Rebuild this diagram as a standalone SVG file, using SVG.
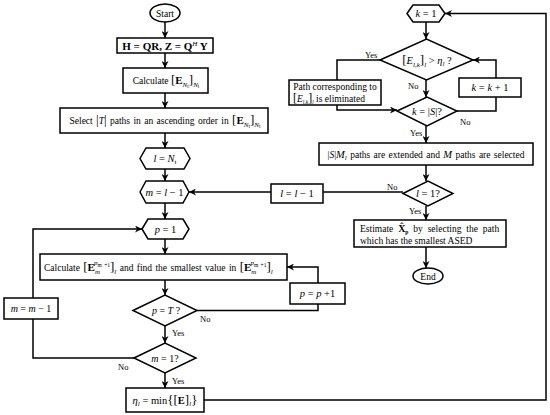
<svg xmlns="http://www.w3.org/2000/svg" width="550" height="415" viewBox="0 0 550 415" font-family="'Liberation Serif', 'Times New Roman', serif">
<defs>
<marker id="ah" viewBox="0 0 10 10" refX="10" refY="5" markerWidth="7" markerHeight="7" orient="auto" markerUnits="userSpaceOnUse">
<path d="M0,0 L10,5 L0,10 L3,5 z" fill="#000"/>
</marker>
<style>
.s{fill:#fff;stroke:#000;stroke-width:1.5}
.c{fill:none;stroke:#000;stroke-width:1.5}
.a{marker-end:url(#ah)}
text{font-family:'Liberation Serif','Times New Roman',serif;font-size:9.5px;fill:#000}
.mid{text-anchor:middle}
.i{font-style:italic}
.b{font-weight:bold}
.sm{font-size:7px}
.xs{font-size:5.5px}
.br{font-size:13px}
.lb{font-size:8.5px}
.e{font-size:11px;font-weight:bold}
</style>
</defs>
<rect width="550" height="415" fill="#fff"/>
<g id="connectors">
<line class="c a" x1="165" y1="22" x2="165" y2="38"/>
<line class="c a" x1="165" y1="53" x2="165" y2="68"/>
<line class="c a" x1="165" y1="93" x2="165" y2="108"/>
<line class="c a" x1="165" y1="133" x2="165" y2="148"/>
<line class="c a" x1="165" y1="169" x2="165" y2="181"/>
<line class="c a" x1="165" y1="203" x2="165" y2="219"/>
<line class="c a" x1="165" y1="239" x2="165" y2="254"/>
<line class="c a" x1="165" y1="280" x2="165" y2="295"/>
<line class="c a" x1="165" y1="326" x2="165" y2="343"/>
<line class="c a" x1="165" y1="373" x2="165" y2="388"/>
<polyline class="c a" points="197,310.5 318,310.5 318,267 287,267"/>
<polyline class="c a" points="134,358 33,358 33,229 142,229"/>
<polyline class="c a" points="204,400 546,400 546,13.5 445,13.5"/>
<line class="c a" x1="426" y1="22" x2="426" y2="39"/>
<polyline class="c a" points="380,60 337,60 337,110 397,110"/>
<line class="c a" x1="426" y1="80" x2="426" y2="97"/>
<polyline class="c a" points="457,111 496,111 496,60 473,60"/>
<line class="c a" x1="426" y1="126" x2="426" y2="143"/>
<line class="c a" x1="426" y1="165" x2="426" y2="181"/>
<polyline class="c a" points="403,192 189,192"/>
<line class="c a" x1="426" y1="206" x2="426" y2="220"/>
<line class="c a" x1="426" y1="247" x2="426" y2="268"/>
<text class="lb" x="200" y="322">No</text>
<text class="lb" x="172" y="336">Yes</text>
<text class="lb" x="118" y="370">No</text>
<text class="lb" x="172" y="384">Yes</text>
<text class="lb" x="365" y="58">Yes</text>
<text class="lb" x="408" y="89">No</text>
<text class="lb" x="460" y="125">No</text>
<text class="lb" x="410" y="136">Yes</text>
<text class="lb" x="387" y="190">No</text>
<text class="lb" x="409" y="214">Yes</text>
</g>
<g id="start">
<ellipse class="s" cx="165" cy="13" rx="15" ry="9"/>
<text class="mid" x="165" y="16.5">Start</text>
</g>
<g id="qr">
<rect class="s" x="117" y="38" width="96" height="15"/>
<text class="mid b" x="165" y="49.5" style="font-size:11px">H = QR,  Z = Q<tspan class="i sm" style="font-weight:normal" dy="-4">H</tspan><tspan dy="4"> Y</tspan></text>
</g>
<g id="calc1">
<rect class="s" x="123" y="68" width="85" height="25"/>
<text class="mid" x="166" y="84">Calculate  <tspan class="br">[</tspan><tspan class="e">E</tspan><tspan class="i sm" dy="3">N</tspan><tspan class="xs" dy="1">t</tspan><tspan class="br" dy="-4">]</tspan><tspan class="i sm" dy="3">N</tspan><tspan class="xs" dy="1">t</tspan></text>
</g>
<g id="select">
<rect class="s" x="60" y="108" width="208" height="25"/>
<text class="mid" x="165" y="124" style="word-spacing:1px">Select <tspan class="br">|</tspan><tspan class="i">T</tspan><tspan class="br">|</tspan> paths in an ascending order in <tspan class="br">[</tspan><tspan class="e">E</tspan><tspan class="i sm" dy="3">N</tspan><tspan class="xs" dy="1">t</tspan><tspan class="br" dy="-4">]</tspan><tspan class="i sm" dy="3">N</tspan><tspan class="xs" dy="1">t</tspan></text>
</g>
<g id="lnt">
<polygon class="s" points="140,158.5 146,148 184,148 190,158.5 184,169 146,169"/>
<text class="mid" x="165" y="162" style="font-size:10.5px"><tspan class="i">l</tspan> = <tspan class="i">N</tspan><tspan class="sm" dy="2">t</tspan></text>
</g>
<g id="ml1">
<polygon class="s" points="140,192 146,181 183,181 189,192 183,203 146,203"/>
<text class="mid" x="164.5" y="195.5" style="font-size:10.5px"><tspan class="i">m</tspan> = <tspan class="i">l</tspan> − 1</text>
</g>
<g id="p1">
<polygon class="s" points="142,229 148,219 183,219 189,229 183,239 148,239"/>
<text class="mid" x="165.5" y="232.5" style="font-size:10.5px"><tspan class="i">p</tspan> = 1</text>
</g>
<g id="calc2">
<rect class="s" x="40" y="254" width="247" height="26"/>
<text x="44" y="271" style="word-spacing:1px">Calculate <tspan class="br">[</tspan><tspan class="e">E</tspan><tspan class="i sm" dy="3">m</tspan><tspan class="i sm" dx="-6" dy="-9">p</tspan><tspan class="xs" dy="2">m +1</tspan><tspan class="br" dy="4">]</tspan><tspan class="i sm" dy="3">l</tspan><tspan dy="-3"> and find the smallest value in </tspan><tspan class="br">[</tspan><tspan class="e">E</tspan><tspan class="i sm" dy="3">m</tspan><tspan class="i sm" dx="-6" dy="-9">p</tspan><tspan class="xs" dy="2">m +1</tspan><tspan class="br" dy="4">]</tspan><tspan class="i sm" dy="3">l</tspan></text>
</g>
<g id="pT">
<polygon class="s" points="133,310.5 165,295 197,310.5 165,326"/>
<text class="mid" x="166" y="314" style="font-size:10px"><tspan class="i">p</tspan> = <tspan class="i">T</tspan> ?</text>
</g>
<g id="m1">
<polygon class="s" points="134,358 165,343 196,358 165,373"/>
<text class="mid" x="165" y="361.5" style="font-size:10px"><tspan class="i">m</tspan> = 1?</text>
</g>
<g id="mm1">
<rect class="s" x="4" y="298" width="54" height="21"/>
<text class="mid" x="31" y="312" style="font-size:10px"><tspan class="i">m</tspan> = <tspan class="i">m</tspan> − 1</text>
</g>
<g id="eta">
<rect class="s" x="126" y="388" width="78" height="24"/>
<text class="mid" x="165" y="403.5" style="font-size:10.5px"><tspan class="i">η</tspan><tspan class="i sm" dy="2">l</tspan><tspan dy="-2"> = min</tspan><tspan class="br">{[</tspan><tspan class="b">E</tspan><tspan class="br">]</tspan><tspan class="i sm" dy="2">l</tspan><tspan class="br" dy="-2">}</tspan></text>
</g>
<g id="pp1">
<rect class="s" x="290" y="283" width="55" height="21"/>
<text class="mid" x="317.5" y="297" style="font-size:10.5px"><tspan class="i">p</tspan> = <tspan class="i">p</tspan> +1</text>
</g>
<g id="k1">
<polygon class="s" points="407,13.5 413,5 439,5 445,13.5 439,22 413,22"/>
<text class="mid" x="426" y="17" style="font-size:10.5px"><tspan class="i">k</tspan> = 1</text>
</g>
<g id="cmp">
<polygon class="s" points="380,60 426.5,39 473,60 426.5,80"/>
<text class="mid" x="427" y="63.5" style="font-size:10.5px"><tspan class="br">[</tspan><tspan class="i">E</tspan><tspan class="i sm" dy="3">l,k</tspan><tspan class="br" dy="-3">]</tspan><tspan class="i sm" dy="3">l</tspan><tspan dy="-3"> &gt; </tspan><tspan class="i">η</tspan><tspan class="i sm" dy="2">l</tspan><tspan dy="-2"> ?</tspan></text>
</g>
<g id="elim">
<rect class="s" x="289" y="80" width="92" height="25"/>
<text class="mid" x="335" y="89.5">Path corresponding  to</text>
<text x="293" y="101.5"><tspan style="font-size:12px">[</tspan><tspan class="i">E</tspan><tspan class="i xs" dy="2">l,k</tspan><tspan style="font-size:12px" dy="-2">]</tspan><tspan class="i xs" dy="2">l</tspan><tspan dy="-2">  is eliminated</tspan></text>
</g>
<g id="kk1">
<rect class="s" x="459" y="78" width="62" height="19"/>
<text class="mid" x="490" y="91" style="font-size:10.5px"><tspan class="i">k</tspan> = <tspan class="i">k</tspan> + 1</text>
</g>
<g id="kS">
<polygon class="s" points="397,111 427,97 457,111 427,126"/>
<text class="mid" x="427" y="114.5" style="font-size:10.5px"><tspan class="i">k</tspan> = |<tspan class="i">S</tspan>|?</text>
</g>
<g id="ext">
<rect class="s" x="319" y="143" width="214" height="22"/>
<text class="mid" x="426" y="157.5" style="word-spacing:1px">|<tspan class="i">S</tspan>|<tspan class="i" style="font-size:10.5px">M</tspan><tspan class="i sm" dy="2">l</tspan><tspan dy="-2">  paths are extended and  </tspan><tspan class="i" style="font-size:10.5px">M</tspan>  paths are selected</text>
</g>
<g id="l1">
<polygon class="s" points="403,193.5 428,181 453,193.5 428,206"/>
<text class="mid" x="428" y="197" style="font-size:10.5px"><tspan class="i">l</tspan> = 1?</text>
</g>
<g id="ll1">
<rect class="s" x="271" y="184" width="52" height="19"/>
<text class="mid" x="297" y="197" style="font-size:10.5px"><tspan class="i">l</tspan> = <tspan class="i">l</tspan> − 1</text>
</g>
<g id="est">
<rect class="s" x="354" y="220" width="152" height="27"/>
<text x="360" y="232" style="word-spacing:2.5px">Estimate  <tspan class="b" style="font-size:10px">X̂</tspan><tspan class="b xs" dy="2">p</tspan><tspan dy="-2"> by selecting the path</tspan></text>
<text x="360" y="243.5">which has the smallest ASED</text>
</g>
<g id="end">
<ellipse class="s" cx="428" cy="276" rx="15" ry="8"/>
<text class="mid" x="428" y="279.5">End</text>
</g>
</svg>
